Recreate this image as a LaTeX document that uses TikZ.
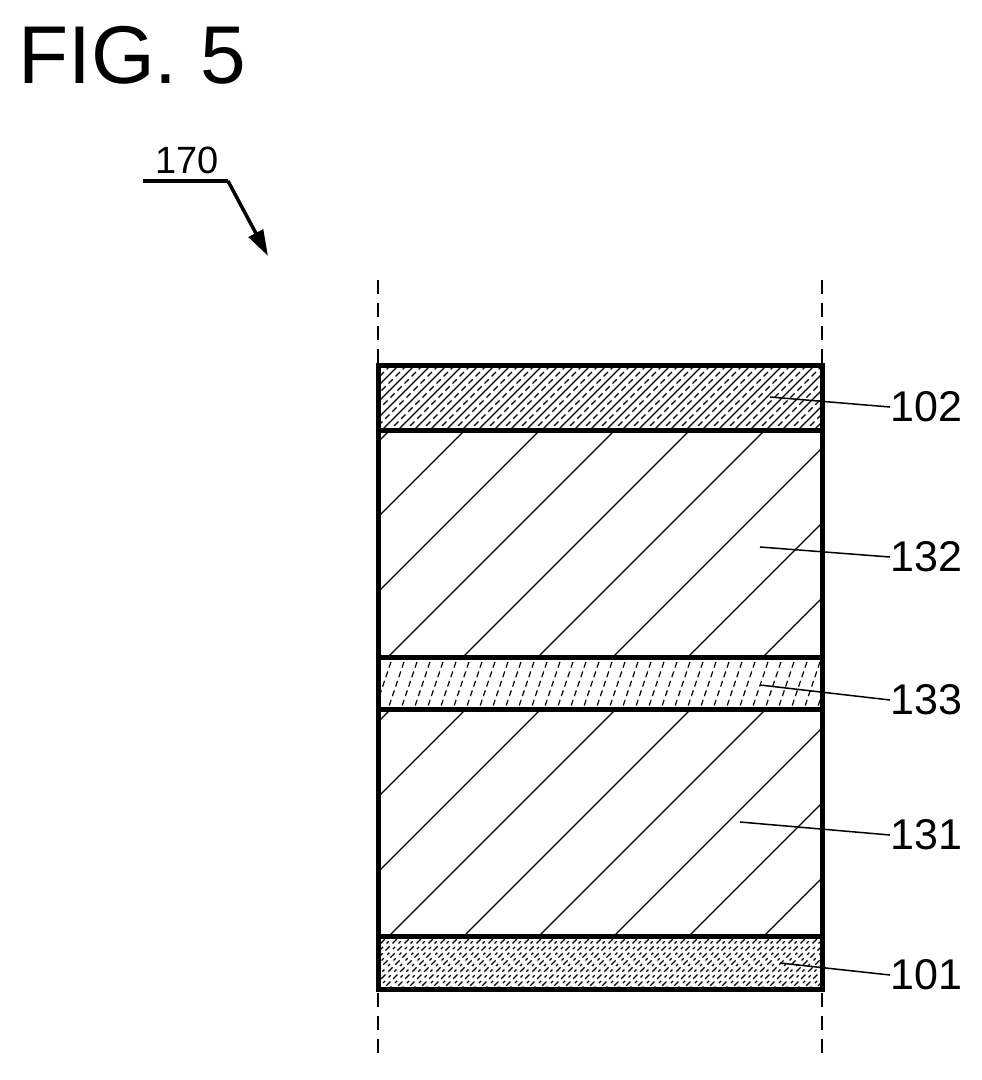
\documentclass[tikz,border=0pt]{standalone}
\usepackage{fontspec}
\setmainfont{Liberation Sans}
\usetikzlibrary{arrows.meta}
\tikzset{>={Triangle[length=26pt,width=16pt]},
         layer/.style={line width=5pt},
         hatch/.style={line width=1.2pt},
         brokenhatch/.style={line width=1.2pt, dash pattern=on 6pt off 4pt},
         leader/.style={line width=1.5pt},
         labeled/.style={font=\fontsize{43}{43}\selectfont, anchor=west, inner sep=0pt}}
\begin{document}
\begin{tikzpicture}[x=1pt,y=-1pt]
  \useasboundingbox (0,0) rectangle (982,1080);
  \node[anchor=west, inner sep=0pt, font=\fontsize{82}{82}\selectfont] (fig) at (18,55) {FIG. 5};
  \node[inner sep=0pt, font=\fontsize{38}{38}\selectfont] (ref) at (187,160) {170};
  \coordinate (ra) at (143,181);
  \coordinate (rb) at (228,181);
  \coordinate (rc) at (268,256);
  \draw[line width=3.5pt] (ra) -- (rb);
  \draw[line width=3.5pt,->] (rb) -- (rc);
  % dashed guides
  \draw[line width=1.8pt, dash pattern=on 14pt off 9pt] (378,280) -- (378,1060);
  \draw[line width=1.8pt, dash pattern=on 14pt off 9pt] (822,280) -- (822,1060);
  % hatching
  \begin{scope}
    \clip (378,365) rectangle (822,430);
    \foreach \i in {0,...,40} \draw[brokenhatch] (300+\i*16,440) -- ++(90,-90);
    \foreach \i in {0,...,40} \draw[hatch] (308+\i*16,440) -- ++(90,-90);
  \end{scope}
  \begin{scope}
    \clip (378,430) rectangle (822,657);
    \foreach \i in {0,...,12} \draw[hatch] (150+\i*75,670) -- ++(250,-250);
  \end{scope}
  \begin{scope}
    \clip (378,657) rectangle (822,709);
    \foreach \i in {0,...,38} \draw[brokenhatch] (360+\i*13,715) -- ++(22,-65);
  \end{scope}
  \begin{scope}
    \clip (378,709) rectangle (822,936);
    \foreach \i in {0,...,12} \draw[hatch] (150+\i*75,950) -- ++(250,-250);
  \end{scope}
  \begin{scope}
    \clip (378,936) rectangle (822,989);
    \foreach \i in {0,...,45} \draw[brokenhatch] (300+\i*12,1000) -- ++(70,-70);
    \foreach \i in {0,...,45} \draw[line width=1.2pt, dash pattern=on 3pt off 5pt] (306+\i*12,1000) -- ++(70,-70);
  \end{scope}
  % layers
  \draw[layer] (378,365) rectangle (822,989);
  \foreach \y in {430,657,709,936} \draw[layer] (378,\y) -- (822,\y);
  % labels
  \node[labeled] (l102) at (890,407) {102};
  \node[labeled] (l132) at (890,557) {132};
  \node[labeled] (l133) at (890,700) {133};
  \node[labeled] (l131) at (890,835) {131};
  \node[labeled] (l101) at (890,975) {101};
  \coordinate (p102) at (770,397);
  \coordinate (p132) at (760,547);
  \coordinate (p133) at (760,685);
  \coordinate (p131) at (740,822);
  \coordinate (p101) at (780,963);
  \foreach \n in {102,132,133,131,101} \draw[leader] (p\n) -- (l\n.west);
\end{tikzpicture}
\end{document}
